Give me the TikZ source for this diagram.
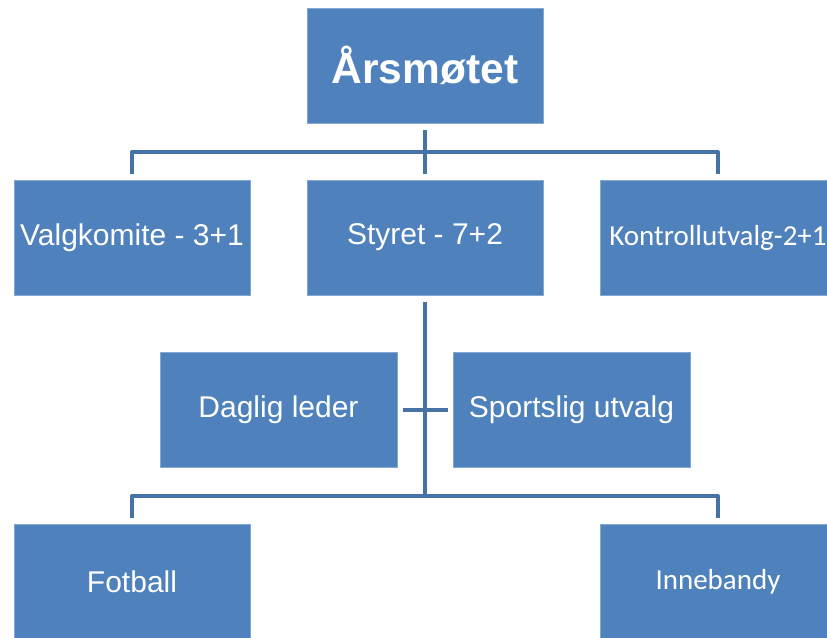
\documentclass[tikz,border=0pt]{standalone}
\usepackage{fontspec}
\setmainfont{Liberation Sans}
\newfontfamily\carlitofont{Carlito}
\definecolor{boxblue}{HTML}{4F81BD}
\definecolor{lineblue}{HTML}{4672A6}
\begin{document}
\begin{tikzpicture}[x=1pt,y=-1pt,
  orgbox/.style={rectangle, fill=boxblue, draw=boxblue!70!white, line width=0.6pt, minimum width=236pt, minimum height=115pt, inner sep=0pt, text=white, font=\fontsize{30}{34}\selectfont},
  conn/.style={draw=lineblue, line width=4pt, line join=round}]
\useasboundingbox (0,0) rectangle (827,637);
\clip (0,0) rectangle (827,637);
\node[orgbox, font=\fontsize{42.5}{48}\selectfont\bfseries] (top) at (425,65.5) {Årsmøtet};
\node[orgbox] (valg) at (132,237.5) {Valgkomite - 3+1};
\node[orgbox] (styret) at (425,237.5) {Styret - 7+2};
\node[orgbox, font=\fontsize{29}{34}\selectfont\carlitofont] (kontroll) at (718,237.5) {Kontrollutvalg-2+1};
\node[orgbox, minimum width=237pt] (daglig) at (278.5,409.5) {Daglig leder};
\node[orgbox, minimum width=237pt] (sport) at (571.5,409.5) {Sportslig utvalg};
\node[orgbox] (fotball) at (132,581.5) {Fotball};
\node[orgbox, font=\fontsize{29}{34}\selectfont\carlitofont] (inne) at (718,581.5) {Innebandy};
\coordinate (bus1) at (425,152);
\coordinate (bus2) at (425,496);
\draw[conn, shorten <=7pt, shorten >=6pt] (top.south) -- (styret.north);
\draw[conn, shorten >=6pt] (bus1) -| (valg.north);
\draw[conn, shorten >=6pt] (bus1) -| (kontroll.north);
\draw[conn, shorten <=7pt] (styret.south) -- (bus2);
\draw[conn, shorten >=6pt] (bus2) -| (fotball.north);
\draw[conn, shorten >=6pt] (bus2) -| (inne.north);
\draw[conn, shorten <=6pt, shorten >=5pt] (daglig.east) -- (sport.west);
\end{tikzpicture}
\end{document}
